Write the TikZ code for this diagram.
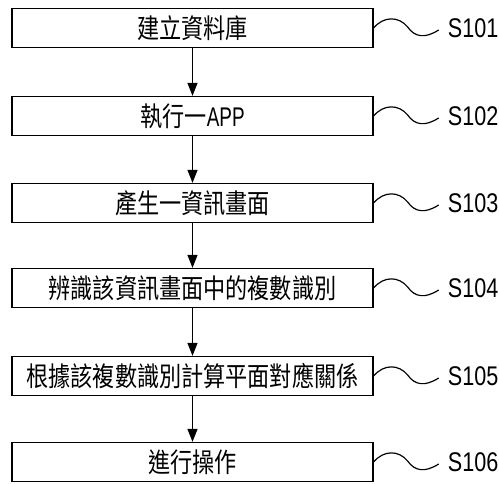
\documentclass[tikz,border=0pt]{standalone}
\usepackage{fontspec}
\setmainfont{Liberation Sans}
\newfontfamily\cjk{Noto Sans CJK TC}
\usetikzlibrary{arrows.meta}
\newcommand\cjtxt[1]{\scalebox{0.82}[1]{\fontsize{27}{27}\selectfont\cjk #1}}
\newcommand\latxt[2]{\scalebox{#1}[1]{\fontsize{27}{27}\selectfont #2}}
\tikzset{
  stepbox/.style={draw, line width=1.3pt, minimum width=361pt, minimum height=39pt, inner sep=0pt},
  lbl/.style={anchor=west, inner sep=0pt},
  flow/.style={line width=1.3pt, -{Triangle[length=13pt,width=10pt]}},
  squig/.style={line width=1.2pt}
}
\begin{document}
\begin{tikzpicture}[x=1pt,y=-1pt]
\useasboundingbox (0,0) rectangle (499,484);
\node[stepbox] (s1) at (192.5,28) {\cjtxt{建立資料庫}};
\node[stepbox] (s2) at (192.5,116) {\cjtxt{執行一}\latxt{0.7}{APP}};
\node[stepbox] (s3) at (192.5,203) {\cjtxt{產生一資訊畫面}};
\node[stepbox] (s4) at (192.5,288) {\cjtxt{辨識該資訊畫面中的複數識別}};
\node[stepbox] (s5) at (192.5,376) {\cjtxt{根據該複數識別計算平面對應關係}};
\node[stepbox] (s6) at (192.5,462) {\cjtxt{進行操作}};
\foreach \i in {1,...,6}{
  \node[lbl] (l\i) at ([xshift=74pt]s\i.east) {\latxt{0.8}{S10\i}};
  \draw[squig] (s\i.east) .. controls +(10,-12) and +(-9,-11) .. ++(34,-1)
     .. controls +(7,10) and +(-14,9) .. ++(31,3);
}
\foreach \a/\b in {s1/s2,s2/s3,s3/s4,s4/s5,s5/s6}{
  \draw[flow] (\a.south) -- (\b.north);
}
\end{tikzpicture}
\end{document}
